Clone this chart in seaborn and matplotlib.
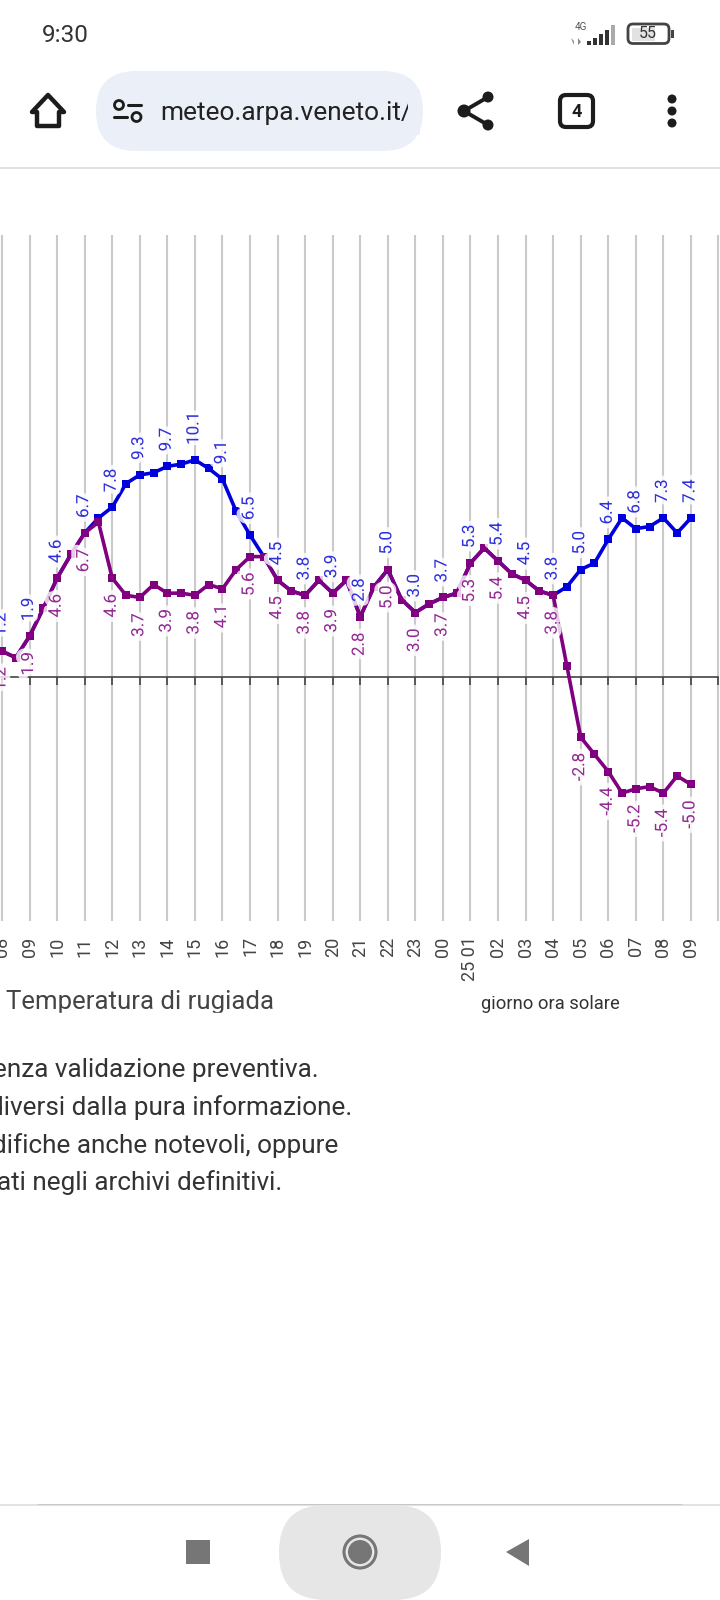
# plot.py
# Dew point / temperature chart inside a phone screenshot

import numpy as np
import matplotlib
matplotlib.use('Agg')
import matplotlib.pyplot as plt
import matplotlib.patheffects as pe
from matplotlib.patches import Circle, FancyBboxPatch, Polygon, Rectangle
import seaborn as sns

# half-hourly readings, 08:00 to 09:00 the next day
temperature = [1.2, 0.9, 1.9, 3.2, 4.6, 5.7, 6.7, 7.4, 7.9, 9.0, 9.4, 9.5, 9.8, 9.9, 10.1, 9.7, 9.2,
               7.7, 6.6, 5.6, 4.5, 4.0, 3.8, 4.5, 3.9, 4.5, 2.8, 4.2, 5.0, 3.6, 3.0, 3.4, 3.7, 3.9,
               5.3, 6.0, 5.4, 4.8, 4.5, 4.0, 3.8, 4.2, 5.0, 5.3, 6.4, 7.4, 6.9, 7.0, 7.4, 6.7, 7.4]
dew_point = [1.2, 0.9, 1.9, 3.2, 4.6, 5.7, 6.7, 7.2, 4.6, 3.8, 3.7, 4.3, 3.9, 3.9, 3.8, 4.3, 4.1,
             5.0, 5.6, 5.6, 4.5, 4.0, 3.8, 4.5, 3.9, 4.5, 2.8, 4.2, 5.0, 3.6, 3.0, 3.4, 3.7, 3.9,
             5.3, 6.0, 5.4, 4.8, 4.5, 4.0, 3.8, 0.5, -2.8, -3.6, -4.4, -5.4, -5.2, -5.1, -5.4, -4.6, -5.0]

# hourly value labels printed on the chart
temperature_labels = ['1.2', '1.9', '4.6', '6.7', '7.8', '9.3', '9.7', '10.1', '9.1', '6.5', '4.5', '3.8', '3.9',
                      '2.8', '5.0', '3.0', '3.7', '5.3', '5.4', '4.5', '3.8', '5.0', '6.4', '6.8', '7.3', '7.4']
dew_point_labels = ['1.2', '1.9', '4.6', '6.7', '4.6', '3.7', '3.9', '3.8', '4.1', '5.6', '4.5', '3.8', '3.9',
                    '2.8', '5.0', '3.0', '3.7', '5.3', '5.4', '4.5', '3.8', '-2.8', '-4.4', '-5.2', '-5.4', '-5.0']
hour_labels = ['08', '09', '10', '11', '12', '13', '14', '15', '16', '17', '18', '19', '20', '21', '22', '23',
               '00', '25 01', '02', '03', '04', '05', '06', '07', '08', '09', '']

paragraph = ['enza validazione preventiva.', 'diversi dalla pura informazione.',
             'difiche anche notevoli, oppure', 'ati negli archivi definitivi.']

COLORS = {'temp': '#0000dd', 'dew': '#800080', 'temp_text': '#3030dd', 'dew_text': '#942a94',
          'grid': '#cacaca', 'axis': '#444444', 'text': '#333333', 'icon': '#1c1c1c',
          'pill': '#ebf0f8', 'nav': '#767676', 'nav_pill': '#e6e6e6'}

sns.set_theme(style='white')
plt.rcParams['font.family'] = ['Roboto', 'DejaVu Sans']

fig = plt.figure(figsize=(7.2, 16), dpi=100, facecolor='white')


def px_box(left, top, right, bottom):
    """Figure fraction box from screenshot pixels"""
    return [left / 720, 1 - bottom / 1600, (right - left) / 720, (bottom - top) / 1600]


# --- chart ---
ax = fig.add_axes(px_box(0, 235, 718.5, 921))
half_hours = np.arange(len(temperature)) * 0.5
hours = np.arange(len(hour_labels))

sns.lineplot(x=half_hours, y=temperature, ax=ax, color=COLORS['temp'], linewidth=2.6, marker='s',
             markersize=5.6, markeredgewidth=0, errorbar=None)
sns.lineplot(x=half_hours, y=dew_point, ax=ax, color=COLORS['dew'], linewidth=2.6, marker='s',
             markersize=5.6, markeredgewidth=0, errorbar=None)

ax.set_xlim(-0.0726, 26)
ax.set_ylim(-11.35, 20.56)
ax.set_xticks(hours)
ax.set_xticklabels(hour_labels, rotation=90, fontsize=13, color=COLORS['axis'])
ax.set_yticks([])
ax.tick_params(axis='x', length=0, pad=11)
ax.grid(axis='x', color=COLORS['grid'], linewidth=1.5)
ax.set_axisbelow(True)
for spine in ax.spines.values():
    spine.set_visible(False)
ax.patch.set_alpha(0)

# zero line with its ticks
zero_pos = 11.35 / (11.35 + 20.56)
zero_axis = ax.secondary_xaxis(zero_pos)
zero_axis.set_xticks(hours)
zero_axis.set_xticklabels([])
zero_axis.tick_params(axis='x', length=6, width=1.2, color=COLORS['axis'], direction='out')
zero_axis.spines['bottom'].set_color(COLORS['axis'])
zero_axis.spines['bottom'].set_linewidth(1.2)
zero_axis.set_zorder(1.6)

halo = [pe.withStroke(linewidth=7, foreground='white', alpha=0.8)]
for i, label in enumerate(temperature_labels):
    ax.annotate(label, (i, temperature[i * 2]), xytext=(-1, 15), textcoords='offset pixels', rotation=90,
                ha='center', va='bottom', fontsize=12.2, color=COLORS['temp_text'], path_effects=halo,
                annotation_clip=False)
for i, label in enumerate(dew_point_labels):
    ax.annotate(label, (i, dew_point[i * 2]), xytext=(-1, -16), textcoords='offset pixels', rotation=90,
                ha='center', va='top', fontsize=12.2, color=COLORS['dew_text'], path_effects=halo,
                annotation_clip=False)

# --- everything around the chart, in screenshot pixels ---
ui = fig.add_axes([0, 0, 1, 1], zorder=5)
ui.set_xlim(0, 720)
ui.set_ylim(1600, 0)
ui.axis('off')


def rounded(left, top, right, bottom, radius, **kwargs):
    ui.add_patch(FancyBboxPatch((left + radius, top + radius), right - left - 2 * radius,
                                bottom - top - 2 * radius, boxstyle=f'round,pad={radius}', **kwargs))


# legend and notes
ui.text(6, 1002, 'Temperatura di rugiada', fontsize=18.5, color='#444444', ha='left', va='center')
ui.add_patch(Rectangle((0, 1012.5), 300, 10, color='white', zorder=3))
ui.text(550, 1004, 'giorno ora solare', fontsize=13.2, color=COLORS['text'], ha='center', va='center')
for line, right, y in zip(paragraph, [319, 352, 338, 282], [1070, 1108, 1146, 1183]):
    ui.text(right, y, line, fontsize=18.8, color=COLORS['text'], ha='right', va='center')

# status bar
ui.text(42, 35, '9:30', fontsize=17.5, color='#333333', ha='left', va='center')
ui.text(581, 27.5, '4G', fontsize=7, color='#555555', ha='center', va='center')
for x, top, shade in zip([587, 593, 599, 605, 611], [41, 38, 34, 30, 25],
                         ['#333333', '#333333', '#333333', '#333333', '#aaaaaa']):
    ui.add_patch(Rectangle((x, top), 4, 45 - top, color=shade, linewidth=0))
ui.add_patch(Polygon([(571, 38), (574, 41), (574, 45)], color='#888888', linewidth=0))
ui.add_patch(Polygon([(578, 38), (578, 45), (581, 42)], color='#888888', linewidth=0))
ui.add_patch(Rectangle((632, 27.5), 23, 13, color='#e2e2e2', linewidth=0))
rounded(628, 24, 669, 43.5, 5, facecolor='none', edgecolor='#444444', linewidth=2)
ui.add_patch(Rectangle((671, 30), 2.5, 8, color='#444444', linewidth=0))
ui.text(648, 34, '55', fontsize=11.5, color='#333333', ha='center', va='center')

# browser bar
rounded(96, 71, 423, 151, 40, facecolor=COLORS['pill'], edgecolor='none')
ui.text(160, 113, 'meteo.arpa.veneto.it/', fontsize=18.9, color='#222222', ha='left', va='center')
ui.add_patch(Rectangle((408, 90), 12, 45, color=COLORS['pill'], linewidth=0, zorder=3))
ui.add_patch(Circle((119, 105), 4.5, facecolor='none', edgecolor=COLORS['icon'], linewidth=2))
ui.add_patch(Circle((136.5, 117), 4.5, facecolor='none', edgecolor=COLORS['icon'], linewidth=2))
ui.plot([128, 141], [105, 105], color=COLORS['icon'], linewidth=2.2)
ui.plot([114, 127], [117, 117], color=COLORS['icon'], linewidth=2.2)

ui.add_patch(Polygon([(48, 95), (32, 112), (37, 112), (37, 126), (59, 126), (59, 112), (64, 112)],
                     facecolor='none', edgecolor=COLORS['icon'], linewidth=3.2, joinstyle='round'))
ui.plot([488, 464, 488], [97, 111, 125], color=COLORS['icon'], linewidth=2.8)
for y, r in zip([97, 111, 125], [5.5, 6.5, 5.5]):
    ui.add_patch(Circle((488 if y != 111 else 464, y), r, color=COLORS['icon'], linewidth=0))
rounded(560, 95, 593, 127, 6, facecolor='none', edgecolor=COLORS['icon'], linewidth=3)
ui.text(576.5, 112, '4', fontsize=13, fontweight='bold', color=COLORS['icon'], ha='center', va='center')
for y in [99, 111, 123]:
    ui.add_patch(Circle((672, y), 4.5, color=COLORS['icon'], linewidth=0))
ui.add_patch(Rectangle((0, 167), 720, 2.2, color='#e2e2e2', linewidth=0))

# navigation bar
ui.add_patch(Rectangle((0, 1503.5), 720, 2, color='#e2e2e2', linewidth=0))
ui.add_patch(Rectangle((38, 1503.5), 644, 1.2, color='#c8c8c8', linewidth=0))
ui.add_patch(Rectangle((0, 1505.5), 720, 94.5, color='white', linewidth=0))
rounded(279, 1505, 441, 1600, 47, facecolor=COLORS['nav_pill'], edgecolor='none')
ui.add_patch(Rectangle((186, 1540), 24, 24, color=COLORS['nav'], linewidth=0))
ui.add_patch(Circle((360, 1552), 16, facecolor='none', edgecolor=COLORS['nav'], linewidth=2.2))
ui.add_patch(Circle((360, 1552), 12, color=COLORS['nav'], linewidth=0))
ui.add_patch(Polygon([(506, 1552), (529, 1539), (529, 1566)], color=COLORS['nav'], linewidth=0))

fig.savefig('out.png', dpi=100)
